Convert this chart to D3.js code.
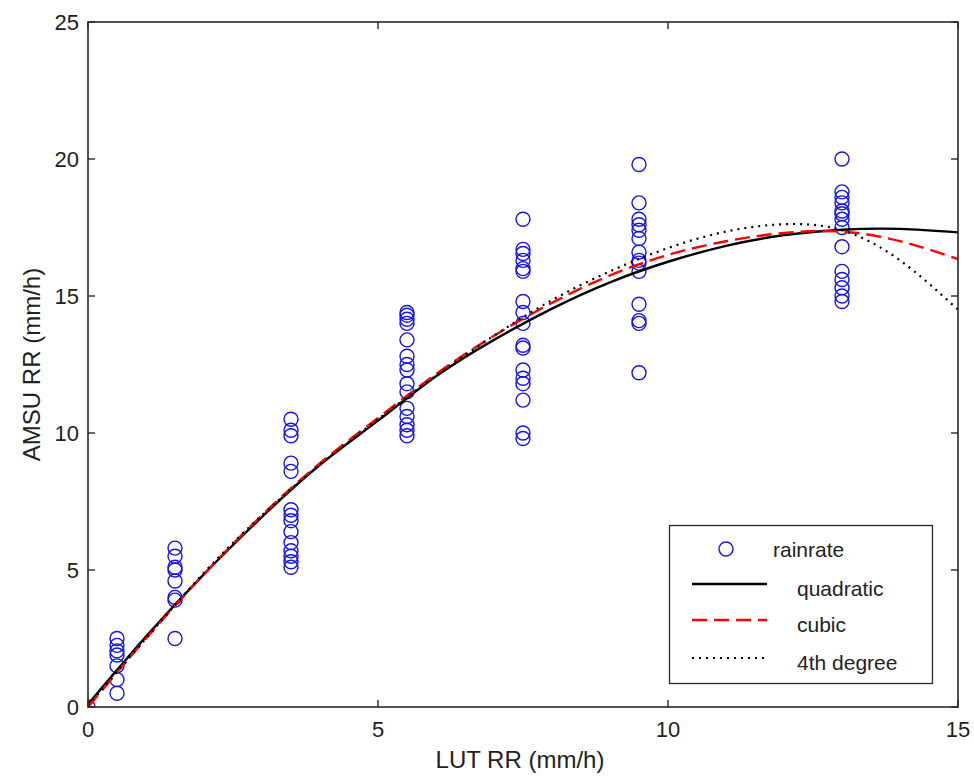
<!DOCTYPE html>
<html>
<head>
<meta charset="utf-8">
<script src="https://cdn.jsdelivr.net/npm/d3@7"></script>
<style>
  html, body { margin: 0; padding: 0; background: #fff; }
  svg { display: block; }
  text { font-family: "Liberation Sans", Arial, sans-serif; fill: #222; }
</style>
</head>
<body>
<svg id="chart" width="974" height="781"></svg>
<script>
// Observed rain rates: AMSU RR grouped by LUT RR class
const lutClasses = [0, 0.5, 1.5, 3.5, 5.5, 7.5, 9.5, 13];
const amsuByClass = [
  [0],
  [2.5, 2.25, 2.05, 1.9, 1.5, 1.0, 0.5],
  [5.8, 5.5, 5.1, 5.0, 4.6, 4.0, 3.9, 2.5],
  [10.5, 10.1, 9.9, 8.9, 8.6, 7.2, 7.0, 6.8, 6.4, 6.0, 5.7, 5.5, 5.3, 5.1],
  [14.4, 14.3, 14.15, 14.0, 13.4, 12.8, 12.5, 12.3, 11.8, 11.5, 10.9, 10.6, 10.3, 10.1, 9.9],
  [17.8, 16.7, 16.55, 16.3, 16.0, 15.9, 14.8, 14.4, 14.0, 13.2, 13.1, 12.3, 12.0, 11.8, 11.2, 10.0, 9.8],
  [19.8, 18.4, 17.8, 17.6, 17.4, 17.1, 16.6, 16.3, 16.2, 15.9, 14.7, 14.1, 14.0, 12.2],
  [20.0, 18.8, 18.6, 18.4, 18.1, 18.0, 17.8, 17.5, 16.8, 15.9, 15.6, 15.3, 15.0, 14.8]
];

// Fitted curves sampled along LUT RR
const fitX = [0, 1, 2, 3, 4, 5, 6, 7, 8, 9, 10, 11, 12, 13, 14, 15];
const quadratic = [0.1, 2.57, 4.85, 6.94, 8.84, 10.45, 12.07, 13.4, 14.54, 15.5, 16.25, 16.83, 17.22, 17.42, 17.45, 17.32];
const cubic     = [0.0, 2.5, 4.85, 7.0, 8.9, 10.55, 12.15, 13.55, 14.75, 15.75, 16.5, 17.0, 17.3, 17.35, 17.0, 16.35];
const fourth    = [0.05, 2.5, 4.9, 7.0, 8.85, 10.5, 12.1, 13.55, 14.85, 15.9, 16.75, 17.35, 17.62, 17.4, 16.3, 14.5];

const xTicks = [0, 5, 10, 15];
const yTicks = [0, 5, 10, 15, 20, 25];
const legendLabels = ["rainrate", "quadratic", "cubic", "4th degree"];

const W = 974, H = 781;
const m = { left: 88, right: 16, top: 22, bottom: 74 };
const pw = W - m.left - m.right, ph = H - m.top - m.bottom;

const svg = d3.select("#chart");
const x = d3.scaleLinear().domain([0, 15]).range([m.left, m.left + pw]);
const y = d3.scaleLinear().domain([0, 25]).range([m.top + ph, m.top]);

svg.append("defs").append("clipPath").attr("id", "plotclip")
  .append("rect").attr("x", m.left).attr("y", m.top).attr("width", pw).attr("height", ph);

// Scatter points
const pts = [];
lutClasses.forEach((c, i) => amsuByClass[i].forEach(v => pts.push([c, v])));
svg.append("g").attr("clip-path", "url(#plotclip)")
  .selectAll("circle").data(pts).join("circle")
  .attr("cx", d => x(d[0])).attr("cy", d => y(d[1])).attr("r", 7)
  .attr("fill", "none").attr("stroke", "#1414e8").attr("stroke-width", 1.4);

// Fit curves
const line = d3.line().x(d => x(d[0])).y(d => y(d[1])).curve(d3.curveNatural);
const curves = [
  { vals: quadratic, color: "#000", dash: null, w: 2.4 },
  { vals: cubic, color: "#ff0000", dash: "15,7", w: 2.4 },
  { vals: fourth, color: "#000", dash: "2,5", w: 2.2 }
];
const cg = svg.append("g").attr("clip-path", "url(#plotclip)");
curves.forEach(c => {
  cg.append("path").datum(fitX.map((v, i) => [v, c.vals[i]]))
    .attr("d", line).attr("fill", "none")
    .attr("stroke", c.color).attr("stroke-width", c.w)
    .attr("stroke-dasharray", c.dash);
});

// Axes box with inward ticks on all four sides
const axisColor = "#2a2a2a";
const tickLen = 7;
const box = svg.append("g");
box.append("rect").attr("x", m.left).attr("y", m.top).attr("width", pw).attr("height", ph)
  .attr("fill", "none").attr("stroke", axisColor).attr("stroke-width", 1.6);

xTicks.forEach(t => {
  box.append("line").attr("x1", x(t)).attr("x2", x(t)).attr("y1", y(0)).attr("y2", y(0) - tickLen)
    .attr("stroke", axisColor).attr("stroke-width", 1.4);
  box.append("line").attr("x1", x(t)).attr("x2", x(t)).attr("y1", y(25)).attr("y2", y(25) + tickLen)
    .attr("stroke", axisColor).attr("stroke-width", 1.4);
  svg.append("text").attr("x", x(t)).attr("y", y(0) + 30).attr("text-anchor", "middle")
    .attr("font-size", 22).text(t);
});
yTicks.forEach(t => {
  box.append("line").attr("x1", x(0)).attr("x2", x(0) + tickLen).attr("y1", y(t)).attr("y2", y(t))
    .attr("stroke", axisColor).attr("stroke-width", 1.4);
  box.append("line").attr("x1", x(15)).attr("x2", x(15) - tickLen).attr("y1", y(t)).attr("y2", y(t))
    .attr("stroke", axisColor).attr("stroke-width", 1.4);
  svg.append("text").attr("x", m.left - 9).attr("y", y(t) + 8).attr("text-anchor", "end")
    .attr("font-size", 22).text(t);
});

// Axis titles
svg.append("text").attr("x", 520).attr("y", 768).attr("text-anchor", "middle")
  .attr("font-size", 24).text("LUT RR (mm/h)");
svg.append("text").attr("transform", `translate(40,${m.top + ph / 2}) rotate(-90)`)
  .attr("text-anchor", "middle").attr("font-size", 24).text("AMSU RR (mm/h)");

// Legend
const lg = svg.append("g");
lg.append("rect").attr("x", 669.5).attr("y", 525.5).attr("width", 263).attr("height", 158)
  .attr("fill", "#fff").attr("stroke", axisColor).attr("stroke-width", 1.3);
lg.append("circle").attr("cx", 726).attr("cy", 549).attr("r", 7)
  .attr("fill", "none").attr("stroke", "#1414e8").attr("stroke-width", 1.4);
lg.append("text").attr("x", 773).attr("y", 557).attr("font-size", 21).text(legendLabels[0]);
const rows = [{ c: curves[0], y: 584, ty: 596 }, { c: curves[1], y: 620, ty: 632 }, { c: curves[2], y: 658, ty: 670 }];
rows.forEach((r, i) => {
  lg.append("line").attr("x1", 692).attr("x2", 767).attr("y1", r.y).attr("y2", r.y)
    .attr("stroke", r.c.color).attr("stroke-width", r.c.w).attr("stroke-dasharray", r.c.dash);
  lg.append("text").attr("x", 797).attr("y", r.ty).attr("font-size", 21).text(legendLabels[i + 1]);
});
</script>
</body>
</html>
